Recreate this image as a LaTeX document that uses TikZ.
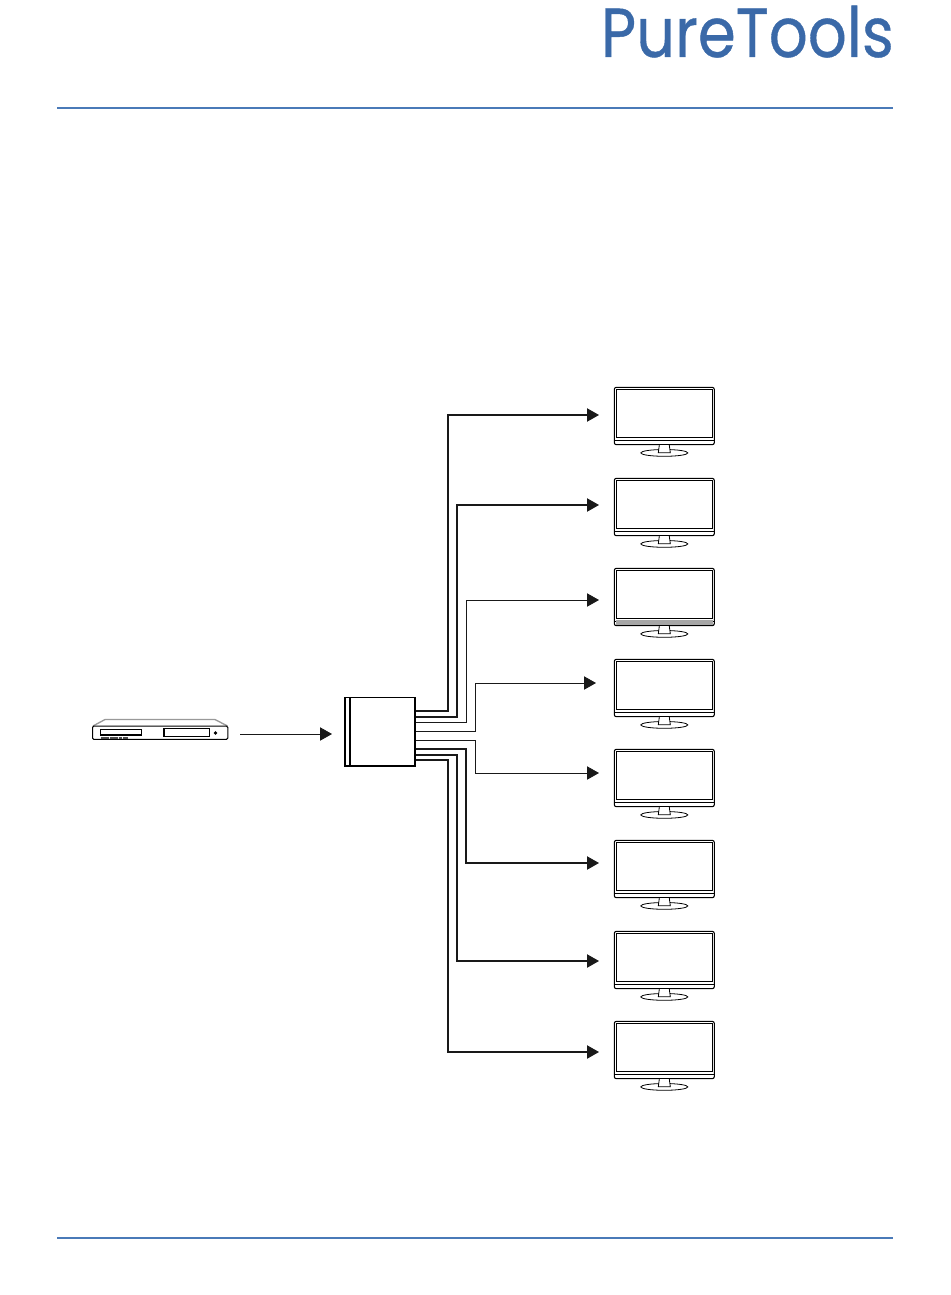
\documentclass[tikz,border=0pt]{standalone}
\usepackage{fontspec}
\usepackage{xcolor}
\usetikzlibrary{arrows.meta, positioning, calc}
\newfontfamily\logofont[FakeBold=0.6]{Poppins}
\definecolor{logoblue}{HTML}{3A69A8}
\definecolor{ruleblue}{HTML}{4A7AB8}
\tikzstyle{arrow} = [line width=0.8pt,-{Triangle[length=9pt,width=10pt]},color=black!90]
\tikzstyle{thinarrow} = [arrow,line width=0.6pt]
\tikzstyle{rulestyle} = [ruleblue,line width=1.2pt]
\tikzstyle{tvbox} = [draw,line width=0.8pt,rounded corners=1.5pt,minimum width=75pt,minimum height=43pt,inner sep=0pt]

\begin{document}
\begin{tikzpicture}[x=0.75pt,y=-0.75pt]
    \useasboundingbox (0,0) rectangle (950,1295);

    % Logo and rules
    \node[logoblue,anchor=base east,inner sep=0pt,font=\logofont\fontsize{52}{52}\selectfont] (logo) at (894,57) {\scalebox{0.88}[1]{PureTools}};
    \coordinate (r1a) at (57,108);
    \coordinate (r1b) at (893,108);
    \coordinate (r2a) at (57,1238);
    \coordinate (r2b) at (893,1238);
    \draw[rulestyle] (r1a) -- (r1b);
    \draw[rulestyle] (r2a) -- (r2b);

    % Draw player
    \draw[line width=1pt,black!40] (93,726) -- (105,719.5) -- (215,719.5) -- (227.5,726);
    \node[draw,line width=0.8pt,rounded corners=1pt,minimum width=101.5pt,minimum height=10pt,inner sep=0pt] (player) at (160.2,732.7) {};
    \draw[line width=0.8pt] (100.5,729.5) rectangle (141.5,735);
    \draw[line width=0.8pt] (164,728.7) rectangle (209.5,736.8);
    \fill (215.5,733) circle (1.8);
    \draw[line width=1.2pt,dash pattern=on 2.8pt off 0.5pt,black!70] (101,737.8) -- (128,737.8);

    % Draw splitter
    \node[draw,line width=0.8pt,minimum width=52.5pt,minimum height=51.7pt,inner sep=0pt] (split) at (380,731.5) {};
    \draw[line width=1.1pt] (350,697) -- (350,765);

    % Draw monitors
    \foreach \i/\y in {1/416,2/507,3/597,4/688,5/778,6/869,7/960,8/1050} {
        \node[tvbox] (tv\i) at (664.3,\y) {};
        \draw[line width=0.7pt] ($(tv\i.north west)+(2.2,3)$) rectangle ($(tv\i.south east)+(-2.2,-7.5)$);
        \draw[line width=0.6pt] ($(tv\i.south west)+(0,-4.5)$) -- ($(tv\i.south east)+(0,-4.5)$);
        \draw[line width=0.6pt] ($(tv\i.south)+(0,7.7)$) ellipse (23.5 and 3.4);
        \draw[line width=0.6pt,fill=white] ($(tv\i.south)+(-5,0)$) -- ($(tv\i.south)+(-6,7.5)$) -- ($(tv\i.south)+(6,7.5)$) -- ($(tv\i.south)+(5,0)$);
    }
    \fill[black!35] ($(tv3.south west)+(2,-6.5)$) rectangle ($(tv3.south east)+(-2,-1.5)$);

    % Ports on the splitter
    \foreach \i/\y in {1/711,2/717,3/722,4/731,5/740,6/749,7/755,8/760} {
        \coordinate (port\i) at (split.east |- 0,\y);
    }

    % Arrow ends
    \coordinate (end1) at (599,415);
    \coordinate (end2) at (599,505);
    \coordinate (end3) at (599,600);
    \coordinate (end4) at (596,683);
    \coordinate (end5) at (599,773);
    \coordinate (end6) at (599,863);
    \coordinate (end7) at (599,961);
    \coordinate (end8) at (599,1052);

    % Connections
    \coordinate (playerout) at (240,734);
    \coordinate (splitin) at (332,734);
    \draw[thinarrow] (playerout) -- (splitin);
    \draw[arrow] (port1) -- (448,711) -- (448,415) -- (end1);
    \draw[arrow] (port2) -- (457,717) -- (457,505) -- (end2);
    \draw[thinarrow] (port3) -- (466,722) -- (466,600) -- (end3);
    \draw[thinarrow] (port4) -- (475,731) -- (475,683) -- (end4);
    \draw[thinarrow] (port5) -- (475,740) -- (475,773) -- (end5);
    \draw[arrow] (port6) -- (466,749) -- (466,863) -- (end6);
    \draw[arrow] (port7) -- (457,755) -- (457,961) -- (end7);
    \draw[arrow] (port8) -- (448,760) -- (448,1052) -- (end8);
\end{tikzpicture}
\end{document}
